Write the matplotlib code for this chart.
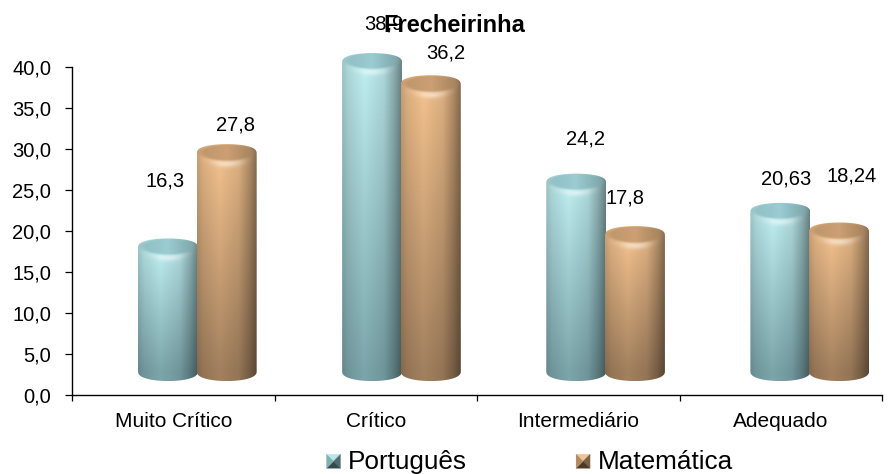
import matplotlib
matplotlib.use("Agg")
import matplotlib.pyplot as plt
import numpy as np
from matplotlib.legend_handler import HandlerBase
from matplotlib.patches import PathPatch, Patch, Polygon
from matplotlib.path import Path
from matplotlib.ticker import FuncFormatter

plt.rcParams['font.family'] = ['Liberation Sans', 'DejaVu Sans']

categories = ['Muito Crítico', 'Crítico', 'Intermediário', 'Adequado']
portugues = [16.3, 38.9, 24.2, 20.63]
matematica = [27.8, 36.2, 17.8, 18.24]
series_names = ['Português', 'Matemática']
title = 'Frecheirinha'

# cores: topo, base, tampa
cor_port = ((0.73, 0.91, 0.92), (0.47, 0.63, 0.65), (0.56, 0.74, 0.76))
cor_mat = ((0.93, 0.74, 0.54), (0.62, 0.49, 0.36), (0.74, 0.58, 0.42))

# efeito 3D: o cilindro fica deslocado em relacao ao eixo
LIFT = 1.6
FLOOR = 2.9
RY = 1.2
BAR_W = 0.296
X0 = -0.026
STEP = 1.008
GAP = 0.29


def cilindro(ax, xc, valor, cores):
    hw = BAR_W / 2
    ytop = valor + LIFT
    ys = np.linspace(ytop + RY, FLOOR - RY, 500)
    xs = np.linspace(-1, 1, 120)
    s, y = np.meshgrid(xs, ys)
    v = (ytop - y) / (ytop - FLOOR)
    v = np.clip(v, 0, 1)[..., None]
    top, base, tampa = [np.array(c)[None, None, :] for c in cores]
    # luz horizontal
    luz = np.interp(s, [-1, -0.8, -0.25, 0.4, 0.75, 1], [0.84, 0.93, 1.03, 0.93, 0.74, 0.56])[..., None]
    img = (top * (1 - v) + base * v) * luz
    # tampa superior e brilho logo abaixo
    dentro = (s / 0.92) ** 2 + ((y - ytop - 0.2) / (RY * 0.85)) ** 2
    brilho = np.exp(-((y - (ytop - RY * (1 - 0.7 * s ** 2))) / 0.4) ** 2) * np.exp(-(s / 0.5) ** 2)
    img = img + (1 - img) * 0.5 * brilho[..., None]
    m = np.clip((1.2 - dentro) / 0.5, 0, 1)[..., None]
    tampa_img = tampa * np.interp(s, [-1, 0, 1], [1.0, 1.08, 0.85])[..., None]
    img = img * (1 - m) + tampa_img * m
    img = np.clip(img, 0, 1)

    t = np.linspace(0, np.pi, 60)
    topo = np.c_[xc + hw * np.cos(t), ytop + RY * np.sin(t) ** 0.7]
    baixo = np.c_[xc - hw * np.cos(t), FLOOR - RY * np.sin(t) ** 0.8]
    verts = np.vstack([topo, baixo, topo[:1]])
    im = ax.imshow(img, extent=(xc - hw, xc + hw, FLOOR - RY, ytop + RY), aspect='auto',
                   interpolation='bilinear', zorder=3)
    clip = PathPatch(Path(verts), transform=ax.transData, fc='none', ec='none')
    ax.add_patch(clip)
    im.set_clip_path(clip)
    im.set_clip_box(ax.figure.bbox)


class Piramide(HandlerBase):
    def create_artists(self, legend, orig, x0, y0, w, h, fontsize, trans):
        s = 14 * 72 / 100
        x, y = x0 + w - s, y0 + (h - s) / 2 - 1
        c = (x + s / 2, y + s / 2)
        cs = orig.cores
        cantos = [(x, y + s), (x + s, y + s), (x + s, y), (x, y)]
        out = []
        for i in range(4):
            out.append(Polygon([cantos[i], cantos[(i + 1) % 4], c], closed=True, fc=cs[i], ec=cs[i], lw=0.2, transform=trans))
        return out


fig = plt.figure(figsize=(8.93, 4.74), dpi=100)
ax = fig.add_axes([72 / 893, 1 - 395 / 474, 810 / 893, 328 / 474])

pos = np.arange(len(categories))
xport = X0 + pos * STEP
xmat = xport + GAP
for i in pos:
    cilindro(ax, xport[i], portugues[i], cor_port)
    cilindro(ax, xmat[i], matematica[i], cor_mat)

# rotulos colocados a mao, como no grafico original
off_port = [(-3, 67), (12, 39), (9, 44), (6, 34)]
off_mat = [(9, 29), (15, 32), (-10, 38), (13, 56)]
for i in pos:
    ax.annotate(str(portugues[i]).replace('.', ','), (xport[i], portugues[i] + LIFT), xytext=off_port[i],
                textcoords='offset pixels', ha='center', va='center', fontsize=14.5, annotation_clip=False)
    ax.annotate(str(matematica[i]).replace('.', ','), (xmat[i], matematica[i] + LIFT), xytext=off_mat[i],
                textcoords='offset pixels', ha='center', va='center', fontsize=14.5, annotation_clip=False)

ax.set_xlim(-0.5, len(categories) - 0.5)
ax.set_ylim(0, 40)
for lado in ['top', 'right']:
    ax.spines[lado].set_visible(False)
ax.spines['left'].set_linewidth(1.0)
ax.spines['bottom'].set_linewidth(1.0)
ax.set_yticks(np.arange(0, 41, 5))
ax.yaxis.set_major_formatter(FuncFormatter(lambda v, p: f'{v:.1f}'.replace('.', ',')))
ax.tick_params(axis='y', labelsize=14.5, length=5, pad=10, width=0.9)
ax.set_xticks(np.arange(len(categories) + 1) - 0.5)
ax.set_xticklabels([])
ax.set_xticks(pos, minor=True)
ax.set_xticklabels(categories, minor=True, fontsize=15)
ax.tick_params(axis='x', which='major', length=4, width=0.9)
ax.tick_params(axis='x', which='minor', length=0, pad=12)

fig.text(454 / 893, 1 - 26 / 474, title, fontweight='bold', fontsize=17, ha='center', va='center')

h1 = Patch(label=series_names[0])
h1.cores = ['#b8e6e8', '#4f6d70', '#38494c', '#7fb0b2']
h2 = Patch(label=series_names[1])
h2.cores = ['#eec596', '#7d5f42', '#4c3a28', '#b08a60']
fig.legend(handles=[h1, h2], handler_map={h1: Piramide(), h2: Piramide()}, ncol=2, frameon=False,
           fontsize=18.8, loc='center', bbox_to_anchor=(529 / 893, 1 - 462 / 474),
           columnspacing=4.1, handlelength=0.6, handletextpad=0.3, borderpad=0)

fig.savefig('out.png', dpi=100)
